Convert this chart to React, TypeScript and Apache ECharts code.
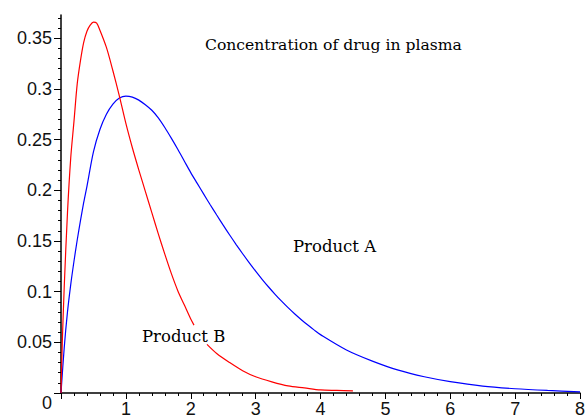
import React, { useEffect, useRef } from "react";
import * as echarts from "echarts";

// Product B (red); null marks the gap behind its label
const bX = [0, 0.02, 0.05, 0.1, 0.15, 0.2, 0.25, 0.3, 0.35, 0.4, 0.45, 0.5, 0.55, 0.6, 0.7, 0.8, 0.9, 1.0, 1.1, 1.2, 1.3, 1.4, 1.5, 1.6, 1.7, 1.8, 1.9, 2.0, 2.05, 2.15, 2.25, 2.4, 2.6, 2.8, 3.0, 3.25, 3.5, 3.75, 4.0, 4.25, 4.5];
const bY = [0, 0.05, 0.105, 0.178, 0.232, 0.268, 0.305, 0.328, 0.346, 0.357, 0.363, 0.366, 0.365, 0.358, 0.341, 0.318, 0.293, 0.266, 0.242, 0.22, 0.199, 0.178, 0.157, 0.137, 0.118, 0.101, 0.087, 0.073, 0.067, null, 0.048, 0.039, 0.03, 0.022, 0.016, 0.011, 0.007, 0.005, 0.003, 0.0025, 0.002];

// Product A (blue)
const aX = [0, 0.05, 0.1, 0.15, 0.2, 0.25, 0.3, 0.35, 0.4, 0.5, 0.6, 0.7, 0.8, 0.9, 1.0, 1.1, 1.2, 1.3, 1.4, 1.5, 1.6, 1.7, 1.8, 1.9, 2.0, 2.1, 2.2, 2.3, 2.4, 2.5, 2.6, 2.7, 2.8, 2.9, 3.0, 3.1, 3.2, 3.3, 3.4, 3.5, 3.6, 3.7, 3.8, 3.9, 4.0, 4.4, 4.8, 5.2, 5.6, 6.0, 6.5, 7.0, 7.5, 8.0];
const aY = [0, 0.045, 0.08, 0.107, 0.13, 0.151, 0.17, 0.188, 0.204, 0.238, 0.26, 0.275, 0.285, 0.291, 0.293, 0.292, 0.289, 0.2845, 0.279, 0.2715, 0.262, 0.2515, 0.2405, 0.229, 0.2175, 0.2068, 0.1962, 0.1858, 0.1756, 0.1656, 0.1559, 0.1465, 0.1374, 0.1286, 0.1202, 0.1122, 0.1046, 0.0974, 0.0906, 0.0842, 0.0782, 0.0726, 0.0673, 0.0623, 0.0576, 0.0425, 0.0315, 0.0225, 0.016, 0.0112, 0.0068, 0.0042, 0.0025, 0.0012];

const yMajor = [0, 0.05, 0.1, 0.15, 0.2, 0.25, 0.3, 0.35];
const yMinor = [0.01, 0.02, 0.03, 0.04, 0.06, 0.07, 0.08, 0.09, 0.11, 0.12, 0.13, 0.14, 0.16, 0.17, 0.18, 0.19, 0.21, 0.22, 0.23, 0.24, 0.26, 0.27, 0.28, 0.29, 0.31, 0.32, 0.33, 0.34, 0.36, 0.37];

const titleText = "Concentration of drug in plasma";
const labelA = "Product A";
const labelB = "Product B";

const pairs = (xs: number[], ys: (number | null)[]) => xs.map((x, i) => [x, ys[i]]);

export default function App() {
  const ref = useRef<HTMLDivElement>(null);
  useEffect(() => {
    if (!ref.current) return;
    const chart = echarts.init(ref.current, null, { renderer: "svg" });
    const tickFont = { fontFamily: "Liberation Sans", fontSize: 18, color: "#111" };
    const serif = "DejaVu Serif";
    chart.setOption({
      animation: false,
      backgroundColor: "#fff",
      grid: { left: 61, right: 5, top: 15, bottom: 27, containLabel: false, outerBoundsMode: "none" },
      xAxis: {
        type: "value",
        min: 0,
        max: 8,
        interval: 1,
        axisLine: { show: true, lineStyle: { color: "#000", width: 1.5 } },
        axisTick: { show: true, length: 6, lineStyle: { color: "#000" } },
        minorTick: { show: true, splitNumber: 5, length: 3, lineStyle: { color: "#000" } },
        splitLine: { show: false },
        minorSplitLine: { show: false },
        axisLabel: {
          ...tickFont,
          margin: 7,
          formatter: (v: number) => (v === 0 ? "" : String(v)),
        },
      },
      yAxis: [
        {
          type: "value",
          min: 0,
          max: 0.373,
          position: "left",
          axisLine: { show: true, lineStyle: { color: "#000", width: 1.5 } },
          axisTick: { show: true, length: 7, customValues: yMajor, lineStyle: { color: "#000" } },
          splitLine: { show: false },
          axisLabel: {
            ...tickFont,
            margin: 9,
            customValues: yMajor,
            formatter: (v: number) => (v === 0 ? "{z|0}" : String(Number(v.toFixed(2)))),
            rich: { z: { ...tickFont, padding: [20, 0, 0, 0] } },
          },
        },
        {
          type: "value",
          min: 0,
          max: 0.373,
          position: "left",
          offset: 0,
          axisLine: { show: false },
          axisTick: { show: true, length: 3, customValues: yMinor, lineStyle: { color: "#000" } },
          axisLabel: { show: false },
          splitLine: { show: false },
        },
      ],
      series: [
        {
          type: "line",
          name: labelA,
          data: pairs(aX, aY),
          showSymbol: false,
          smooth: 0.3,
          lineStyle: { color: "#0000ff", width: 1.2 },
          z: 3,
        },
        {
          type: "line",
          name: labelB,
          data: pairs(bX, bY),
          showSymbol: false,
          connectNulls: false,
          smooth: 0.3,
          lineStyle: { color: "#ff0000", width: 1.2 },
          z: 4,
        },
      ],
      graphic: [
        { type: "text", x: 205, y: 45, z: 100, style: { text: titleText, font: `15.6px "${serif}"`, fill: "#000", verticalAlign: "middle" } },
        { type: "text", x: 293, y: 246, z: 100, style: { text: labelA, font: `16.5px "${serif}"`, fill: "#000", verticalAlign: "middle" } },
        { type: "text", x: 142, y: 336, z: 100, style: { text: labelB, font: `16.5px "${serif}"`, fill: "#000", verticalAlign: "middle" } },
      ],
    });
    return () => chart.dispose();
  }, []);
  return <div ref={ref} style={{ position: "fixed", left: 0, top: 0, width: 585, height: 420 }} />;
}
